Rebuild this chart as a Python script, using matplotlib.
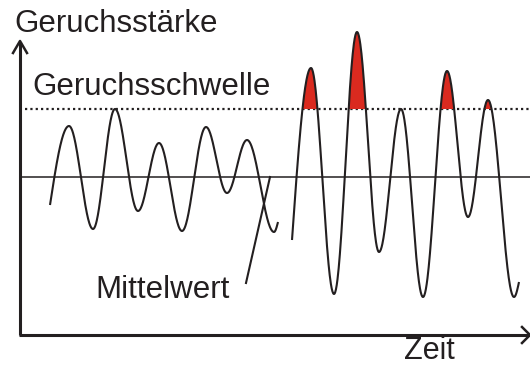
import numpy as np
import matplotlib
matplotlib.use("Agg")
import matplotlib.pyplot as plt

# ---- data (schematic, in picture units: x to the right, y downward) ----
threshold_y = 109
mean_y = 177

# left (low-variance) signal: start point, extrema, end point
left_start = (50, 205)
left_ext_x = [69, 93, 115, 138, 159, 182, 206, 227, 247, 274]
left_ext_y = [126, 229, 109, 211, 143, 231, 127, 193, 140, 232]
left_end = (278, 222)

# right (high-variance) signal
right_start = (292, 240)
right_ext_x = [311, 334, 357, 379, 401, 423, 447, 468, 488, 514]
right_ext_y = [68, 294, 32, 252, 109, 297, 71, 217, 100, 297]
right_end = (519, 282)

# pointer line for "Mittelwert"
pointer_x = [246, 270]
pointer_y = [283, 177]

ink = "#231f20"
red = "#da2a1f"


def build_curve(start, ex, ey, end, n=60):
    xs, ys = [], []
    u = np.linspace(0, 1, n)
    xs.append(start[0] + (ex[0] - start[0]) * u)
    ys.append(start[1] + (ey[0] - start[1]) * np.sin(np.pi / 2 * u))
    for i in range(len(ex) - 1):
        u = np.linspace(0, 1, n)[1:]
        xs.append(ex[i] + (ex[i + 1] - ex[i]) * u)
        ys.append(ey[i] + (ey[i + 1] - ey[i]) * (1 - np.cos(np.pi * u)) / 2)
    u = np.linspace(0, 1, n)[1:]
    xs.append(ex[-1] + (end[0] - ex[-1]) * u)
    ys.append(ey[-1] + (end[1] - ey[-1]) * (1 - np.cos(np.pi / 2 * u)))
    return np.concatenate(xs), np.concatenate(ys)


fig = plt.figure(figsize=(5.30, 3.66), dpi=100)
ax = fig.add_axes([0, 0, 1, 1])
ax.set_xlim(0, 530)
ax.set_ylim(366, 0)
ax.axis("off")

ax.plot([20, 530], [mean_y, mean_y], color=ink, lw=1.1)
ax.plot([25, 530], [threshold_y, threshold_y], color=ink, lw=1.6,
        linestyle=(0, (1, 1.4)))

for start, ex, ey, end in [(left_start, left_ext_x, left_ext_y, left_end),
                           (right_start, right_ext_x, right_ext_y, right_end)]:
    x, y = build_curve(start, ex, ey, end)
    ax.fill_between(x, y, threshold_y, where=y < threshold_y,
                    color=red, lw=0, interpolate=True, zorder=2)
    ax.plot(x, y, color=ink, lw=1.5, zorder=3, solid_capstyle="butt")

ax.plot(pointer_x, pointer_y, color=ink, lw=1.5)

ax.plot([20, 20], [335, 42], color=ink, lw=2.2, solid_capstyle="butt")
ax.plot([13, 20, 27], [53, 41, 53], color=ink, lw=1.8)
ax.plot([19, 529], [335, 335], color=ink, lw=2.2, solid_capstyle="butt")
ax.plot([522, 530, 522], [327, 335, 343], color=ink, lw=1.8)

font = dict(family="Liberation Sans", fontsize=22.5, color=ink)
ax.text(14, 32, "Geruchsstärke", va="baseline", ha="left", **font)
ax.text(32, 95, "Geruchsschwelle", va="baseline", ha="left", **font)
ax.text(95, 298, "Mittelwert", va="baseline", ha="left", **font)
ax.text(404, 359, "Zeit", va="baseline", ha="left",
        **{**font, "fontsize": 22})

fig.savefig("out.png", dpi=100)
